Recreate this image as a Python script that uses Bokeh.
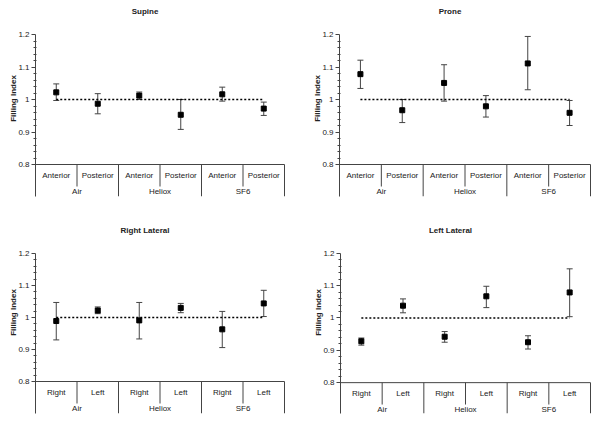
import numpy as np
from bokeh.plotting import figure
from bokeh.models import Range1d, FixedTicker, ColumnDataSource, Whisker, TeeHead
from bokeh.layouts import column, row
from bokeh.embed import file_html
from bokeh.resources import INLINE
from bokeh.core.properties import value

# ---------------- data ----------------
gases = ["Air", "Heliox", "SF6"]
sub_ap = ["Anterior", "Posterior"]
sub_rl = ["Right", "Left"]
y_ticks = [0.8, 0.9, 1.0, 1.1, 1.2]
y_tick_labels = ["0.8", "0.9", "1", "1.1", "1.2"]
reference_value = 1.0

supine_mean = [1.022, 0.987, 1.012, 0.953, 1.016, 0.972]
supine_lower = [0.997, 0.956, 1.000, 0.908, 0.995, 0.951]
supine_upper = [1.048, 1.018, 1.023, 1.000, 1.038, 0.992]

prone_mean = [1.078, 0.967, 1.051, 0.979, 1.111, 0.959]
prone_lower = [1.034, 0.929, 0.995, 0.946, 1.030, 0.920]
prone_upper = [1.121, 1.000, 1.107, 1.012, 1.194, 0.997]

rlat_mean = [0.989, 1.022, 0.991, 1.030, 0.963, 1.044]
rlat_lower = [0.930, 1.012, 0.933, 1.015, 0.906, 1.003]
rlat_upper = [1.047, 1.033, 1.047, 1.044, 1.019, 1.085]

llat_mean = [0.928, 1.038, 0.942, 1.067, 0.925, 1.079]
llat_lower = [0.916, 1.016, 0.925, 1.032, 0.904, 1.004]
llat_upper = [0.938, 1.059, 0.958, 1.098, 0.945, 1.152]

FONT = "Liberation Sans"
TXT = "#222222"
LINE = "#444444"


def make_panel(title, subs, mean, lower, upper, width, height,
               border_left, border_right, top_px, axis_px, below_px):
    n = len(gases) * len(subs)
    xs = np.arange(n) + 0.5
    y_lo, y_hi = y_ticks[0], y_ticks[-1]
    ppu = axis_px / (y_hi - y_lo)
    y_start = y_lo - below_px / ppu
    y_end = y_hi + top_px / ppu
    frame_h = top_px + axis_px + below_px
    frame_w = width - border_left - border_right
    x_end = n * frame_w / (frame_w - 1.0)

    p = figure(width=width, height=height,
               x_range=Range1d(0, x_end), y_range=Range1d(y_start, y_end),
               x_axis_type=None, output_backend="svg", toolbar_location=None,
               min_border_left=border_left, min_border_right=border_right,
               min_border_top=0, min_border_bottom=height - frame_h)
    p.outline_line_color = None
    p.background_fill_color = "white"
    p.border_fill_color = "white"
    p.ygrid.visible = False

    minor = [round(v, 3) for v in np.arange(y_lo, y_hi + 1e-9, 0.02)
             if min(abs(v - t) for t in y_ticks) > 1e-6]
    ax = p.yaxis[0]
    ax.ticker = FixedTicker(ticks=y_ticks, minor_ticks=minor)
    ax.bounds = (y_start, y_hi)
    ax.major_label_overrides = dict(zip(y_ticks, y_tick_labels))
    ax.axis_label = "Filling Index"
    ax.axis_label_text_font = FONT
    ax.axis_label_text_font_style = "bold"
    ax.axis_label_text_font_size = "8px"
    ax.axis_label_text_color = TXT
    ax.axis_label_standoff = -3
    ax.major_label_text_font = FONT
    ax.major_label_text_font_size = "8px"
    ax.major_label_text_color = TXT
    ax.major_label_standoff = 2
    ax.axis_line_color = LINE
    ax.major_tick_line_color = LINE
    ax.minor_tick_line_color = LINE
    ax.major_tick_out = 4
    ax.major_tick_in = 0
    ax.minor_tick_out = 2
    ax.minor_tick_in = 1

    # category axis drawn below the value axis
    p.segment(x0=[0], y0=[y_lo], x1=[n], y1=[y_lo], line_color=LINE, line_width=1)
    inner_x = [g * len(subs) + k for g in range(len(gases)) for k in range(1, len(subs))]
    outer_x = [g * len(subs) for g in range(1, len(gases) + 1)]
    inner_len = 22.0 / ppu
    p.segment(x0=inner_x, y0=[y_lo] * len(inner_x), x1=inner_x,
              y1=[y_lo - inner_len] * len(inner_x), line_color=LINE, line_width=1)
    p.segment(x0=outer_x, y0=[y_lo] * len(outer_x), x1=outer_x,
              y1=[y_start] * len(outer_x), line_color=LINE, line_width=1)

    sub_labels = [s for g in gases for s in subs]
    p.text(x=xs, y=[y_lo] * n, text=sub_labels, y_offset=11,
           text_align="center", text_baseline="middle",
           text_font=value(FONT), text_font_size="8px", text_color=TXT)
    gx = [g * len(subs) + len(subs) / 2 for g in range(len(gases))]
    p.text(x=gx, y=[y_lo] * len(gases), text=gases, y_offset=27,
           text_align="center", text_baseline="middle",
           text_font=value(FONT), text_font_size="8px", text_color=TXT)

    # title
    p.text(x=[n / 2], y=[y_hi], text=[title], x_offset=-15, y_offset=-23,
           text_align="center", text_baseline="middle",
           text_font=value(FONT), text_font_style="bold", text_font_size="8px",
           text_color=TXT)

    # reference line
    p.line(x=[xs[0], xs[-1]], y=[reference_value, reference_value],
           line_color="black", line_width=1.6, line_dash="2 2")

    src = ColumnDataSource(dict(x=xs, mean=mean, lower=lower, upper=upper))
    w = Whisker(base="x", upper="upper", lower="lower", source=src,
                dimension="height", line_color=LINE, line_width=1,
                upper_head=TeeHead(size=6, line_color=LINE, line_width=1),
                lower_head=TeeHead(size=6, line_color=LINE, line_width=1))
    p.add_layout(w)
    p.scatter(x="x", y="mean", source=src, marker="square", size=5,
              fill_color="black", line_color="black")
    return p


p1 = make_panel("Supine", sub_ap, supine_mean, supine_lower, supine_upper,
                300, 211, 35, 15, 34, 130, 32)
p2 = make_panel("Prone", sub_ap, prone_mean, prone_lower, prone_upper,
                300, 211, 39, 9, 34, 130, 32)
p3 = make_panel("Right Lateral", sub_rl, rlat_mean, rlat_lower, rlat_upper,
                300, 212, 35, 15, 42, 128, 32)
p4 = make_panel("Left Lateral", sub_rl, llat_mean, llat_lower, llat_upper,
                300, 212, 40, 9, 42, 130, 31)

layout = column(row(p1, p2), row(p3, p4))
open("out.html", "w").write(file_html(layout, INLINE))
